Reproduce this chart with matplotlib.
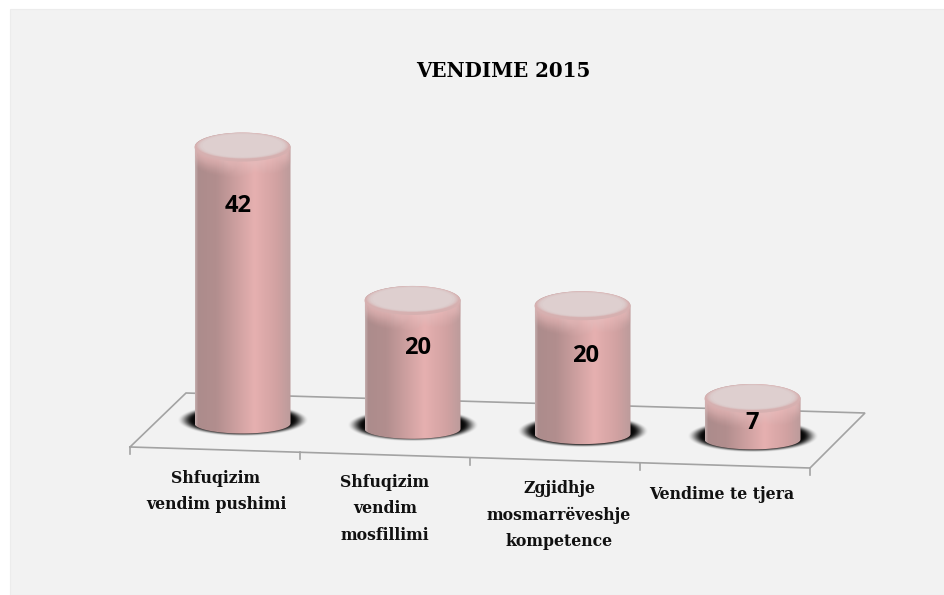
import matplotlib
matplotlib.use("Agg")
import matplotlib.pyplot as plt
import numpy as np
from matplotlib.patches import Ellipse, Rectangle, PathPatch
from matplotlib.path import Path

categories = ["Shfuqizim\nvendim pushimi", "Shfuqizim\nvendim\nmosfillimi",
              "Zgjidhje\nmosmarrëveshje\nkompetence", "Vendime te tjera"]
values = [42, 20, 20, 7]
title = "VENDIME 2015"

BG = "#f2f2f2"
SERIF = "DejaVu Serif"

# pixel layout of the fake 3d floor
fl = (130, 447)      # front left
fr = (810, 468)      # front right
bl = (186, 393)      # back left
br = (865, 413)      # back right
n = len(values)
RX, RY = 48, 14.5
RY_BOTTOM = 10


def cat_x(i):
    return 242.5 + 170 * i


def base_y(i):
    return 419 + 5.3 * i


def val_h(v):
    # the value axis does not start at zero
    return 6.73 * (v - 1.6)


fig = plt.figure(figsize=(9.45, 5.95), dpi=100, facecolor="white")
ax = fig.add_axes([0, 0, 1, 1])
ax.set_xlim(0, 945)
ax.set_ylim(595, 0)
ax.axis("off")

ax.add_patch(Rectangle((10, 9), 935, 586, fc=BG, ec="#ececec", lw=0.8, zorder=0))

# floor
grid = "#a3a3a3"
ax.plot([fl[0], bl[0], br[0], fr[0], fl[0]], [fl[1], bl[1], br[1], fr[1], fl[1]],
        color=grid, lw=1.2, zorder=1, solid_joinstyle="miter")
for i in range(n + 1):
    tx = fl[0] + (fr[0] - fl[0]) * i / n
    ty = fl[1] + (fr[1] - fl[1]) * i / n
    ax.plot([tx, tx], [ty, ty + 7], color=grid, lw=1.2, zorder=1)

# horizontal shading of the cylinders
stops_x = [0.0, 0.03, 0.22, 0.62, 0.85, 1.0]
stops_r = [195, 172, 178, 230, 210, 188]
stops_g = [172, 140, 142, 176, 162, 155]
stops_b = [172, 140, 142, 176, 162, 155]
xs = np.linspace(0, 1, 128)
shade = np.dstack([np.interp(xs, stops_x, stops_r),
                   np.interp(xs, stops_x, stops_g),
                   np.interp(xs, stops_x, stops_b)]).reshape(1, 128, 3) / 255.0

for i, v in enumerate(values):
    cx, by = cat_x(i), base_y(i)
    ty = by - val_h(v)

    # blurred black ring on the floor
    sy, sx = np.mgrid[by - 17:by + 21:76j, cx - 68:cx + 68:272j]
    r = np.sqrt(((sx - cx) / 66.0) ** 2 + ((sy - (by + 1)) / 16.5) ** 2)
    a = np.clip((1 - r) / 0.24, 0, 1)
    a = a * a * (3 - 2 * a) * 0.97
    ring = np.zeros(r.shape + (4,))
    ring[..., 3] = a
    ax.imshow(ring, extent=(cx - 68, cx + 68, by + 21, by - 17), zorder=2,
              interpolation="bilinear", aspect="auto")

    # body: top half ellipse, sides, bottom half ellipse
    t1 = np.linspace(np.pi, 2 * np.pi, 40)
    t2 = np.linspace(0, np.pi, 40)
    px = np.r_[cx + RX * np.cos(t1), cx + RX * np.cos(t2)]
    py = np.r_[ty + RY * np.sin(t1), by + 4.5 + RY_BOTTOM * np.sin(t2)]
    body = PathPatch(Path(np.c_[px, py]), fc="none", ec="none", zorder=3)
    ax.add_patch(body)
    im = ax.imshow(shade, extent=(cx - RX, cx + RX, by + RY + 1, ty - RY - 1),
                   zorder=3, interpolation="bilinear", aspect="auto")
    im.set_clip_path(body)

    # bevel below the cap
    for k in range(16, 0, -1):
        e = Ellipse((cx, ty + k), 2 * RX, 2 * RY, fc="#ecc0c0", ec="none",
                    alpha=0.035 + 0.006 * (16 - k), zorder=4)
        ax.add_patch(e)
        e.set_clip_path(body)
    ax.add_patch(Ellipse((cx, ty), 2 * RX, 2 * RY, fc="#d6b0b0", ec="none", zorder=4))
    # soft flat cap
    for w, alp in [(46, 0.25), (45, 0.3), (44, 0.35), (43, 0.45), (42, 0.6), (40, 1.0)]:
        ax.add_patch(Ellipse((cx, ty - 1.5), 2 * w, 2 * (w * 0.285), fc="#decfcf",
                             ec="none", alpha=alp, zorder=5))

# value labels sit in the bars, a little off centre
lab_dx = [-4, 5, 3, 0]
lab_dy = [59, 48, 50, 24]
for i, v in enumerate(values):
    ax.text(cat_x(i) + lab_dx[i], base_y(i) - val_h(v) + lab_dy[i], str(v),
            family="Open Sans", fontweight="bold", fontsize=17, color="black",
            ha="center", va="center", zorder=6)

# category labels
lab_x = [216, 385, 559, 722]
lab_y = [470, 474, 480, 486]
for lx, ly, c in zip(lab_x, lab_y, categories):
    ax.text(lx, ly, c, family=SERIF, fontweight="bold", fontsize=11.3,
            color="#111111", ha="center", va="top", linespacing=1.72, zorder=6)

ax.text(503, 71, title, family=SERIF, fontweight="bold", fontsize=14.3,
        color="black", ha="center", va="center", zorder=6)

ax.set_xlim(0, 945)
ax.set_ylim(595, 0)
fig.savefig("out.png", dpi=100, facecolor="white")
